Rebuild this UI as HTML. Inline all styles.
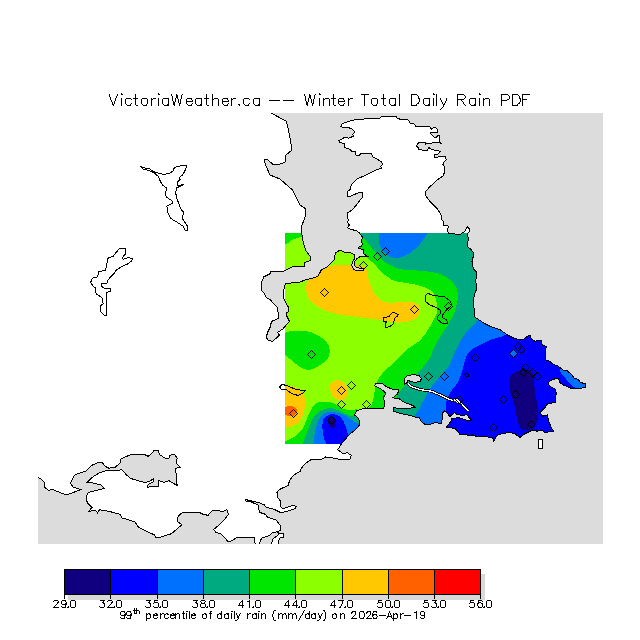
<!DOCTYPE html><html><head><meta charset="utf-8"><style>html,body{margin:0;padding:0;background:#fff;font-family:"Liberation Sans",sans-serif;width:640px;height:640px;overflow:hidden}svg{display:block}</style></head><body>
<svg width="640" height="640" viewBox="0 0 640 640" shape-rendering="crispEdges">
<defs>
<clipPath id="fr"><rect x="38" y="113" width="565" height="431"/></clipPath>
<clipPath id="dr"><rect x="285" y="233" width="325" height="211"/></clipPath>
<clipPath id="ld"><path d="M30 105 L271 105 L271 113 L286 121 L287.5 125 L290 137.5 L292 150 L286 155 L285 162.5 L280 164 L272.5 164 L267.5 159.5 L264.5 160 L265.5 165 L270 175 L280 179 L292.5 190 L295 195 L300 205 L306 209 L305 217.5 L302 225 L301.6 232.5 L303.4 243.75 L306.25 251.25 L310 256 L310 260.6 L305 262.5 L304.4 266.25 L297.5 266.9 L292.5 266.9 L283.75 271.25 L270.6 271.9 L270 273.75 L263.75 276.9 L261.9 281.25 L261.25 290 L264.4 293.75 L266.25 297.5 L270 299.4 L273.75 303.75 L277.5 307.5 L278.1 312.5 L278.1 318.75 L273.1 320.6 L271.25 322.5 L270 327.5 L267.5 332.5 L266.25 337.5 L268.75 340.6 L272.5 341.25 L276.25 338.1 L279.4 335 L277.5 332.5 L283.1 328.75 L286.25 325 L289.4 321.25 L286.9 316.25 L286.25 312.5 L288.75 311.9 L288.75 307.5 L286.25 303.75 L283.75 298.75 L283.75 291.25 L284.4 286.25 L286.25 283.1 L290 283.1 L298.75 282.5 L305 280 L312.5 278.1 L317.5 276.6 L319.4 273.75 L321.25 270 L326.9 267.2 L331.6 262.5 L334.4 259.7 L335.3 253.1 L340 250 L343.75 251.9 L351.25 253.1 L355 255 L354.4 258.75 L352.5 261.9 L351.6 265.6 L353.75 269.4 L355.6 270.6 L363.75 270.6 L363.75 268.75 L356.25 267.5 L354 265 L355 261.25 L356.9 258.75 L360.6 256.25 L367.5 256.25 L363.75 253.75 L363.1 251.25 L363.75 249.4 L358.75 248.75 L358.1 247.5 L361.25 246.25 L362.5 243.75 L361.6 241.9 L361.9 240 L362.2 236.7 L359.8 233.4 L356.6 230.6 L351.9 229.7 L347.2 227.8 L349.4 225 L347.5 222.2 L348.9 219.8 L347.5 218.4 L347.5 212.8 L352.2 210 L356.9 204.4 L359.7 200.6 L362.5 197.3 L362.5 192.7 L359.7 192.2 L351.25 195.9 L347.5 196.9 L347.5 191.25 L350.3 189.4 L351.25 184.7 L356.9 179.1 L367.2 174.4 L375.6 170.2 L381.25 168.3 L380.9 166.25 L382.3 164.4 L381.9 162 L376.25 158.75 L373 156.9 L371.6 154 L368.3 153.6 L360.3 154 L359.4 155.9 L356.1 155.5 L355.2 151.7 L351.9 151.25 L349 148.9 L344.8 147.5 L344.4 143.75 L339.7 142.3 L338.75 140.5 L344.4 137.6 L349 138.1 L353.3 136.25 L352.8 134.4 L354.7 132 L351.9 128.75 L347.2 127.3 L340.2 126.9 L342.5 123.6 L348.1 121.7 L355.6 119.4 L366 118.9 L380 118 L381.9 116.1 L390 116.1 L396.1 116.6 L397.5 118.4 L402.2 119.8 L407.8 119.4 L410.2 123.1 L414.4 124.1 L415.8 126.4 L429.8 126.4 L431.25 129.2 L434 127.3 L436.9 128.3 L437.8 132 L434 132.5 L430.3 133 L433.1 136.25 L435.9 138.1 L436.9 136.25 L439.2 135.3 L439.7 141.9 L441.6 143.3 L436.9 142.3 L429.4 143.3 L425.6 144.2 L425.2 142.3 L419 142.3 L416.25 146.1 L418.1 147.5 L418.6 149.8 L427.5 150.3 L428.9 147.5 L431.25 149.4 L440.6 151.25 L437.8 154 L434 155 L435 157.8 L438.75 156.9 L445.3 156.4 L446.25 159.7 L443.4 162.5 L443 164.4 L444.4 166.25 L445 171.1 L443.1 175.8 L436.6 180.5 L430 186.6 L425.8 191.25 L425.8 195.9 L430.9 202.5 L436.6 208.1 L440.8 213.75 L441.7 219.4 L443.6 222.2 L443.6 225.2 L448.3 226 L447.5 231.4 L449 233.6 L455.3 234 L460.8 234 L464.7 231.4 L467 226.7 L469.4 228.7 L469.4 231.4 L467 233.75 L468.6 238.4 L467.8 241.6 L467.8 247 L471 249.4 L473.3 252.5 L473.4 256.25 L471.9 261 L473.4 268.75 L476.6 271.9 L475.8 281.25 L476.6 289 L474.2 295.3 L473.4 301.6 L474.2 309.4 L475 317.2 L479.7 320.3 L484.4 323.4 L490.6 326.6 L500 329.7 L507.5 335 L515 338.75 L522.5 340 L527.5 336.25 L530 335 L531.25 338.75 L535 341.25 L541.9 340 L541.9 344.7 L546.1 346.6 L545.2 359.7 L549.4 361.1 L554 364.8 L557.8 365.8 L563 370 L566.7 370.5 L569 372.3 L572.3 375.2 L573.75 378 L578.4 379.4 L580.3 382.6 L585.5 383.6 L585.5 387.8 L577.5 388.3 L571.9 388.75 L569 387.3 L563.4 385 L560.2 383.1 L558.75 378.9 L556 378.4 L549.4 381.25 L548 384 L552.2 387.8 L555.5 389.2 L556.4 393.4 L555 400 L555 402.5 L547.5 403.75 L545 407.5 L540 412.5 L542.5 416.25 L547.5 415 L548.75 421.25 L551.25 427.5 L553.75 431.25 L545 432.5 L541.25 430 L537.5 431.25 L532.5 430 L525 433.75 L520 437.5 L515 433.75 L510 432.5 L505 433.1 L497.5 435 L495 438.75 L493.75 441.25 L492.5 438 L487.5 436.9 L477.5 436.9 L472.5 435 L469.7 435.3 L459.9 434.2 L455.5 428.75 L451.1 427.7 L446.7 427.1 L447.8 425.5 L451.1 421 L451.1 418.4 L458.75 417.8 L466.4 420 L471.9 420.6 L466.4 414.5 L464.2 415.6 L456.6 414.5 L454.4 412.4 L450 416.7 L447.8 414 L444.5 410.7 L442.4 413.4 L442.4 417.8 L441.25 423.3 L434.7 422.75 L430.3 424.4 L424.8 424.4 L421 421.1 L419.4 417.8 L415 417.3 L414.7 416.6 L400.6 413.4 L393.6 411.1 L393.6 407.2 L399 408.75 L406.9 408.75 L414.7 407.2 L413.1 405.6 L406.9 403.3 L402.2 401 L399 398.6 L392.8 397.8 L397.5 393.9 L399 390 L392.8 389.2 L386.6 386.9 L381.9 383 L375.6 383.75 L374.8 386 L380.3 388.4 L385.8 393.1 L383.4 397.8 L385 404 L383.4 408.75 L375.6 408.75 L372 408 L366.25 408.75 L362.5 408.75 L356.25 411 L354.7 415 L357.8 418 L360 421.25 L359.4 425.2 L354.7 430.6 L350 433.75 L344.4 440.3 L340.6 445 L337.8 449.7 L342.5 453.4 L347.5 452.9 L351.25 455.3 L350.3 459 L342.5 460 L333 458 L325.6 457 L322 459 L316 459 L310.6 460 L305 463.75 L301.25 468.4 L300.3 471.25 L293.75 475 L290 479.7 L288.1 485.3 L280.6 489 L276.9 491.9 L277.8 497.5 L280.6 501.25 L280.6 506.9 L283.4 508.75 L288.1 506.9 L292.8 505.4 L296.6 506.5 L294.7 508.75 L286.25 511.6 L280.6 512.5 L275 509.7 L265.6 506.9 L264.7 505 L260 503.1 L252.5 501.25 L245 499.4 L245 500.9 L251.6 502.2 L258.1 505 L259 509.7 L260 512.5 L265.6 514.4 L267.5 517.2 L276 520 L279.7 524.7 L280.8 526.9 L280.3 530.6 L277.5 531.6 L271.9 533 L269 535.8 L262.5 537.7 L260.6 540 L259.7 543.5 L259.7 552 L255 552 L255 543.3 L254 541 L254.5 537.7 L244.7 537.2 L236.6 537.8 L231.9 540.6 L228 542 L225 537.8 L221.25 534 L215.6 532.2 L213.75 529.4 L219.4 524.7 L224.1 520 L228.4 514.4 L226.9 509.7 L223.1 511.6 L217.5 510.6 L211.9 511 L208.1 515.3 L203.4 514.4 L198.75 512.1 L195 512.5 L183.75 512.1 L180 514.4 L177.2 518 L178.1 522 L181.9 524.7 L174.4 531.25 L170.6 534 L161.25 536.9 L155.6 537.8 L154.7 535 L146.25 531.25 L138.75 527.5 L135 522 L129.4 520 L121.9 518 L120 514.4 L108.75 511.25 L99.4 509.75 L97.5 513 L95.6 510.3 L89 511.25 L91.9 507.5 L87.2 502.8 L86.25 496.25 L88.1 492.5 L95.6 490.6 L104 488.4 L101.25 485 L91.9 482.75 L87.2 482.2 L91.9 477.5 L99.4 472.8 L106.9 470.4 L116.25 471 L121.9 469.6 L125.6 474 L130.3 478.4 L136.9 480.25 L144.4 482.5 L149 481.6 L153.75 478.75 L153.75 481.6 L148.1 484.4 L147.2 487.2 L158.4 486.25 L158.4 480.6 L164.1 482.5 L168.75 480.6 L173.4 483.4 L177.2 485.3 L176.25 479.7 L176.25 475 L175.3 468.4 L180 467.5 L176.25 462.8 L177.2 458.1 L174.4 454.4 L169.7 455.3 L168.75 459 L165 458.1 L159.4 454.4 L158.4 450.25 L153.75 450.6 L151.9 453.4 L148.1 456.25 L144.4 454.4 L138.75 455 L132.2 454 L127.5 456 L121 458.75 L120 463.4 L114.4 467.75 L108.75 468.1 L105 466.25 L102.2 462.5 L97.5 462.9 L91.9 465.3 L86.25 471 L80.6 472.8 L75 474.7 L72.2 479.4 L70.3 483.1 L73.1 486.9 L80.6 489.7 L76.9 491 L71.25 493.4 L66.6 494.75 L60.9 492.9 L56.25 491 L52.5 489.1 L48.75 490.6 L44.1 486.9 L44.1 482.2 L41.25 479.4 L37.9 477.1 L30 472Z"/></clipPath>
</defs>
<rect x="38" y="113" width="565" height="431" fill="#dcdcdc"/>
<g clip-path="url(#fr)"><path d="M30 105 L271 105 L271 113 L286 121 L287.5 125 L290 137.5 L292 150 L286 155 L285 162.5 L280 164 L272.5 164 L267.5 159.5 L264.5 160 L265.5 165 L270 175 L280 179 L292.5 190 L295 195 L300 205 L306 209 L305 217.5 L302 225 L301.6 232.5 L303.4 243.75 L306.25 251.25 L310 256 L310 260.6 L305 262.5 L304.4 266.25 L297.5 266.9 L292.5 266.9 L283.75 271.25 L270.6 271.9 L270 273.75 L263.75 276.9 L261.9 281.25 L261.25 290 L264.4 293.75 L266.25 297.5 L270 299.4 L273.75 303.75 L277.5 307.5 L278.1 312.5 L278.1 318.75 L273.1 320.6 L271.25 322.5 L270 327.5 L267.5 332.5 L266.25 337.5 L268.75 340.6 L272.5 341.25 L276.25 338.1 L279.4 335 L277.5 332.5 L283.1 328.75 L286.25 325 L289.4 321.25 L286.9 316.25 L286.25 312.5 L288.75 311.9 L288.75 307.5 L286.25 303.75 L283.75 298.75 L283.75 291.25 L284.4 286.25 L286.25 283.1 L290 283.1 L298.75 282.5 L305 280 L312.5 278.1 L317.5 276.6 L319.4 273.75 L321.25 270 L326.9 267.2 L331.6 262.5 L334.4 259.7 L335.3 253.1 L340 250 L343.75 251.9 L351.25 253.1 L355 255 L354.4 258.75 L352.5 261.9 L351.6 265.6 L353.75 269.4 L355.6 270.6 L363.75 270.6 L363.75 268.75 L356.25 267.5 L354 265 L355 261.25 L356.9 258.75 L360.6 256.25 L367.5 256.25 L363.75 253.75 L363.1 251.25 L363.75 249.4 L358.75 248.75 L358.1 247.5 L361.25 246.25 L362.5 243.75 L361.6 241.9 L361.9 240 L362.2 236.7 L359.8 233.4 L356.6 230.6 L351.9 229.7 L347.2 227.8 L349.4 225 L347.5 222.2 L348.9 219.8 L347.5 218.4 L347.5 212.8 L352.2 210 L356.9 204.4 L359.7 200.6 L362.5 197.3 L362.5 192.7 L359.7 192.2 L351.25 195.9 L347.5 196.9 L347.5 191.25 L350.3 189.4 L351.25 184.7 L356.9 179.1 L367.2 174.4 L375.6 170.2 L381.25 168.3 L380.9 166.25 L382.3 164.4 L381.9 162 L376.25 158.75 L373 156.9 L371.6 154 L368.3 153.6 L360.3 154 L359.4 155.9 L356.1 155.5 L355.2 151.7 L351.9 151.25 L349 148.9 L344.8 147.5 L344.4 143.75 L339.7 142.3 L338.75 140.5 L344.4 137.6 L349 138.1 L353.3 136.25 L352.8 134.4 L354.7 132 L351.9 128.75 L347.2 127.3 L340.2 126.9 L342.5 123.6 L348.1 121.7 L355.6 119.4 L366 118.9 L380 118 L381.9 116.1 L390 116.1 L396.1 116.6 L397.5 118.4 L402.2 119.8 L407.8 119.4 L410.2 123.1 L414.4 124.1 L415.8 126.4 L429.8 126.4 L431.25 129.2 L434 127.3 L436.9 128.3 L437.8 132 L434 132.5 L430.3 133 L433.1 136.25 L435.9 138.1 L436.9 136.25 L439.2 135.3 L439.7 141.9 L441.6 143.3 L436.9 142.3 L429.4 143.3 L425.6 144.2 L425.2 142.3 L419 142.3 L416.25 146.1 L418.1 147.5 L418.6 149.8 L427.5 150.3 L428.9 147.5 L431.25 149.4 L440.6 151.25 L437.8 154 L434 155 L435 157.8 L438.75 156.9 L445.3 156.4 L446.25 159.7 L443.4 162.5 L443 164.4 L444.4 166.25 L445 171.1 L443.1 175.8 L436.6 180.5 L430 186.6 L425.8 191.25 L425.8 195.9 L430.9 202.5 L436.6 208.1 L440.8 213.75 L441.7 219.4 L443.6 222.2 L443.6 225.2 L448.3 226 L447.5 231.4 L449 233.6 L455.3 234 L460.8 234 L464.7 231.4 L467 226.7 L469.4 228.7 L469.4 231.4 L467 233.75 L468.6 238.4 L467.8 241.6 L467.8 247 L471 249.4 L473.3 252.5 L473.4 256.25 L471.9 261 L473.4 268.75 L476.6 271.9 L475.8 281.25 L476.6 289 L474.2 295.3 L473.4 301.6 L474.2 309.4 L475 317.2 L479.7 320.3 L484.4 323.4 L490.6 326.6 L500 329.7 L507.5 335 L515 338.75 L522.5 340 L527.5 336.25 L530 335 L531.25 338.75 L535 341.25 L541.9 340 L541.9 344.7 L546.1 346.6 L545.2 359.7 L549.4 361.1 L554 364.8 L557.8 365.8 L563 370 L566.7 370.5 L569 372.3 L572.3 375.2 L573.75 378 L578.4 379.4 L580.3 382.6 L585.5 383.6 L585.5 387.8 L577.5 388.3 L571.9 388.75 L569 387.3 L563.4 385 L560.2 383.1 L558.75 378.9 L556 378.4 L549.4 381.25 L548 384 L552.2 387.8 L555.5 389.2 L556.4 393.4 L555 400 L555 402.5 L547.5 403.75 L545 407.5 L540 412.5 L542.5 416.25 L547.5 415 L548.75 421.25 L551.25 427.5 L553.75 431.25 L545 432.5 L541.25 430 L537.5 431.25 L532.5 430 L525 433.75 L520 437.5 L515 433.75 L510 432.5 L505 433.1 L497.5 435 L495 438.75 L493.75 441.25 L492.5 438 L487.5 436.9 L477.5 436.9 L472.5 435 L469.7 435.3 L459.9 434.2 L455.5 428.75 L451.1 427.7 L446.7 427.1 L447.8 425.5 L451.1 421 L451.1 418.4 L458.75 417.8 L466.4 420 L471.9 420.6 L466.4 414.5 L464.2 415.6 L456.6 414.5 L454.4 412.4 L450 416.7 L447.8 414 L444.5 410.7 L442.4 413.4 L442.4 417.8 L441.25 423.3 L434.7 422.75 L430.3 424.4 L424.8 424.4 L421 421.1 L419.4 417.8 L415 417.3 L414.7 416.6 L400.6 413.4 L393.6 411.1 L393.6 407.2 L399 408.75 L406.9 408.75 L414.7 407.2 L413.1 405.6 L406.9 403.3 L402.2 401 L399 398.6 L392.8 397.8 L397.5 393.9 L399 390 L392.8 389.2 L386.6 386.9 L381.9 383 L375.6 383.75 L374.8 386 L380.3 388.4 L385.8 393.1 L383.4 397.8 L385 404 L383.4 408.75 L375.6 408.75 L372 408 L366.25 408.75 L362.5 408.75 L356.25 411 L354.7 415 L357.8 418 L360 421.25 L359.4 425.2 L354.7 430.6 L350 433.75 L344.4 440.3 L340.6 445 L337.8 449.7 L342.5 453.4 L347.5 452.9 L351.25 455.3 L350.3 459 L342.5 460 L333 458 L325.6 457 L322 459 L316 459 L310.6 460 L305 463.75 L301.25 468.4 L300.3 471.25 L293.75 475 L290 479.7 L288.1 485.3 L280.6 489 L276.9 491.9 L277.8 497.5 L280.6 501.25 L280.6 506.9 L283.4 508.75 L288.1 506.9 L292.8 505.4 L296.6 506.5 L294.7 508.75 L286.25 511.6 L280.6 512.5 L275 509.7 L265.6 506.9 L264.7 505 L260 503.1 L252.5 501.25 L245 499.4 L245 500.9 L251.6 502.2 L258.1 505 L259 509.7 L260 512.5 L265.6 514.4 L267.5 517.2 L276 520 L279.7 524.7 L280.8 526.9 L280.3 530.6 L277.5 531.6 L271.9 533 L269 535.8 L262.5 537.7 L260.6 540 L259.7 543.5 L259.7 552 L255 552 L255 543.3 L254 541 L254.5 537.7 L244.7 537.2 L236.6 537.8 L231.9 540.6 L228 542 L225 537.8 L221.25 534 L215.6 532.2 L213.75 529.4 L219.4 524.7 L224.1 520 L228.4 514.4 L226.9 509.7 L223.1 511.6 L217.5 510.6 L211.9 511 L208.1 515.3 L203.4 514.4 L198.75 512.1 L195 512.5 L183.75 512.1 L180 514.4 L177.2 518 L178.1 522 L181.9 524.7 L174.4 531.25 L170.6 534 L161.25 536.9 L155.6 537.8 L154.7 535 L146.25 531.25 L138.75 527.5 L135 522 L129.4 520 L121.9 518 L120 514.4 L108.75 511.25 L99.4 509.75 L97.5 513 L95.6 510.3 L89 511.25 L91.9 507.5 L87.2 502.8 L86.25 496.25 L88.1 492.5 L95.6 490.6 L104 488.4 L101.25 485 L91.9 482.75 L87.2 482.2 L91.9 477.5 L99.4 472.8 L106.9 470.4 L116.25 471 L121.9 469.6 L125.6 474 L130.3 478.4 L136.9 480.25 L144.4 482.5 L149 481.6 L153.75 478.75 L153.75 481.6 L148.1 484.4 L147.2 487.2 L158.4 486.25 L158.4 480.6 L164.1 482.5 L168.75 480.6 L173.4 483.4 L177.2 485.3 L176.25 479.7 L176.25 475 L175.3 468.4 L180 467.5 L176.25 462.8 L177.2 458.1 L174.4 454.4 L169.7 455.3 L168.75 459 L165 458.1 L159.4 454.4 L158.4 450.25 L153.75 450.6 L151.9 453.4 L148.1 456.25 L144.4 454.4 L138.75 455 L132.2 454 L127.5 456 L121 458.75 L120 463.4 L114.4 467.75 L108.75 468.1 L105 466.25 L102.2 462.5 L97.5 462.9 L91.9 465.3 L86.25 471 L80.6 472.8 L75 474.7 L72.2 479.4 L70.3 483.1 L73.1 486.9 L80.6 489.7 L76.9 491 L71.25 493.4 L66.6 494.75 L60.9 492.9 L56.25 491 L52.5 489.1 L48.75 490.6 L44.1 486.9 L44.1 482.2 L41.25 479.4 L37.9 477.1 L30 472Z" fill="#fff"/></g>
<g clip-path="url(#ld)"><g clip-path="url(#dr)">
<rect x="285" y="233" width="325" height="211" fill="#8cff00"/>
<path d="M285 225 C288.83 221.92 304.17 223.5 308 225 C311.83 226.5 309.33 232 308 234 C306.67 236 302.67 236 300 237 C297.33 238 294.5 238.92 292 240 C289.5 241.08 286.17 246 285 243.5 C283.83 241 281.17 228.08 285 225Z" fill="#00e600"/>
<path d="M280 336 C280.83 333 283.12 333.8 285 333 C286.88 332.2 287.6 331.5 291.25 331.2 C294.9 330.9 302.73 330.62 306.9 331.2 C311.07 331.78 313.4 333.33 316.25 334.7 C319.1 336.07 321.92 337.58 324 339.4 C326.08 341.22 327.83 343.27 328.75 345.6 C329.67 347.93 329.76 351.05 329.5 353.4 C329.24 355.75 328.62 357.87 327.2 359.7 C325.78 361.53 323.08 362.97 321 364.4 C318.92 365.83 316.92 367.4 314.7 368.3 C312.48 369.2 310.05 369.93 307.7 369.8 C305.35 369.67 303.08 368.93 300.6 367.5 C298.12 366.07 295.4 363.33 292.8 361.25 C290.2 359.17 287.13 356.71 285 355 C282.87 353.29 280.83 354.17 280 351 C279.17 347.83 279.17 339 280 336Z" fill="#00e600"/>
<path d="M354 225 C354.33 228.33 354 239.83 356 245 C358 250.17 363.33 253.17 366 256 C368.67 258.83 370.17 260.17 372 262 C373.83 263.83 375.33 265.25 377 267 C378.67 268.75 380.17 270.83 382 272.5 C383.83 274.17 385.83 275.58 388 277 C390.17 278.42 390.5 279.75 395 281 C399.5 282.25 410 283.42 415 284.5 C420 285.58 422.03 286.22 425 287.5 C427.97 288.78 430.97 290.12 432.8 292.2 C434.63 294.28 435.22 297.13 436 300 C436.78 302.87 437.77 306.27 437.5 309.4 C437.23 312.52 435.98 315.37 434.4 318.75 C432.82 322.13 430.4 326.07 428 329.7 C425.6 333.32 423.5 337.22 420 340.5 C416.5 343.78 411.27 345.83 407 349.4 C402.73 352.97 398.85 357.47 394.4 361.9 C389.95 366.33 383.43 371.83 380.3 376 C377.17 380.17 376.9 382.48 375.6 386.9 C374.3 391.32 373.53 399.12 372.5 402.5 C371.47 405.88 371.15 405.95 369.4 407.2 C367.65 408.45 364.19 409.63 362 410 C359.81 410.37 358.25 409.4 356.25 409.4 C354.25 409.4 352.29 410.11 350 410 C347.71 409.89 345 409.79 342.5 408.75 C340 407.71 337.5 404.89 335 403.75 C332.5 402.61 330.42 402.11 327.5 401.9 C324.58 401.69 320 401.57 317.5 402.5 C315 403.43 314.17 405 312.5 407.5 C310.83 410 309.17 413.96 307.5 417.5 C305.83 421.04 304.58 425.62 302.5 428.75 C300.42 431.88 297.92 434.17 295 436.25 C292.08 438.33 287.83 439.96 285 441.25 C282.17 442.54 279.17 443.54 278 444 L278 450 L620 450 L620 225Z" fill="#00e600"/>
<path d="M358 225 C358.67 226.83 360.5 233.17 362 236 C363.5 238.83 365.5 240.17 367 242 C368.5 243.83 369.5 245.25 371 247 C372.5 248.75 374.29 250.54 376 252.5 C377.71 254.46 379.33 256.88 381.25 258.75 C383.17 260.62 385.21 262.29 387.5 263.75 C389.79 265.21 392.42 266.54 395 267.5 C397.58 268.46 398.33 268.92 403 269.5 C407.67 270.08 417 270.33 423 271 C429 271.67 434.5 272.05 439 273.5 C443.5 274.95 447.12 277.37 450 279.7 C452.88 282.03 454.95 284.63 456.25 287.5 C457.55 290.37 457.8 293.77 457.8 296.9 C457.8 300.02 457.03 303.13 456.25 306.25 C455.47 309.37 454.66 312.21 453.1 315.6 C451.54 318.99 448.98 323.2 446.9 326.6 C444.82 330 442.95 332.1 440.6 336 C438.25 339.9 434.52 346.47 432.8 350 C431.08 353.53 432.53 353.66 430.3 357.2 C428.07 360.74 423.82 366.3 419.4 371.25 C414.97 376.2 407.15 383.27 403.75 386.9 C400.35 390.52 400.82 389.88 399 393 C397.18 396.12 395.3 401.43 392.8 405.6 C390.3 409.77 387.8 415.6 384 418 C380.2 420.4 374.42 420.92 370 420 C365.58 419.08 360.42 413.12 357.5 412.5 C354.58 411.88 354.58 416.04 352.5 416.25 C350.42 416.46 347.5 414.79 345 413.75 C342.5 412.71 340 410.94 337.5 410 C335 409.06 332.5 408.1 330 408.1 C327.5 408.1 325 408.85 322.5 410 C320 411.15 317.08 412.5 315 415 C312.92 417.5 311.67 421.25 310 425 C308.33 428.75 306.25 434.17 305 437.5 C303.75 440.83 302.92 443.75 302.5 445 L302.5 450 L620 450 L620 225Z" fill="#00aa80"/>
<path d="M378.5 225 C370.29 226.33 378.5 229.5 378.75 233 C379 236.5 378.79 242.5 380 246 C381.21 249.5 383.83 252.08 386 254 C388.17 255.92 390.67 256.92 393 257.5 C395.33 258.08 397.17 258.25 400 257.5 C402.83 256.75 406.67 255.25 410 253 C413.33 250.75 417.08 247.33 420 244 C422.92 240.67 426.17 236.17 427.5 233 C428.83 229.83 436.17 226.33 428 225 C419.83 223.67 386.71 223.67 378.5 225Z" fill="#0070ff"/>
<path d="M480 300 C479.58 303.33 479.5 315 477.5 320 C475.5 325 470.75 326.67 468 330 C465.25 333.33 463.17 336.33 461 340 C458.83 343.67 457 347.67 455 352 C453 356.33 450.88 362.67 449 366 C447.12 369.33 445.88 369.46 443.75 372 C441.62 374.54 438.54 378.46 436.25 381.25 C433.96 384.04 432.29 385.21 430 388.75 C427.71 392.29 424.79 398.39 422.5 402.5 C420.21 406.61 420 409.15 416.25 413.4 C412.5 417.65 407.71 425.57 400 428 C392.29 430.43 376.88 428.71 370 428 C363.12 427.29 361.46 424.88 358.75 423.75 C356.04 422.62 355.83 422.5 353.75 421.25 C351.67 420 348.75 417.61 346.25 416.25 C343.75 414.89 341.25 413.83 338.75 413.1 C336.25 412.38 333.75 411.79 331.25 411.9 C328.75 412.01 325.83 412.4 323.75 413.75 C321.67 415.1 320.21 417.08 318.75 420 C317.29 422.92 315.83 427.08 315 431.25 C314.17 435.42 313.96 442.71 313.75 445 L313.75 450 L620 450 L620 300Z" fill="#0070ff"/>
<path d="M515 325 C513.33 326.67 509.17 332.5 505 335 C500.83 337.5 494.5 338.17 490 340 C485.5 341.83 481.33 344.17 478 346 C474.67 347.83 472 349.17 470 351 C468 352.83 467.17 354.17 466 357 C464.83 359.83 464.25 364 463 368 C461.75 372 460.67 376.83 458.5 381 C456.33 385.17 452 389.67 450 393 C448 396.33 447.17 398 446.5 401 C445.83 404 446.08 403.67 446 411 C445.92 418.33 446 439.33 446 445 L446 450 L620 450 L620 325Z" fill="#0000ff"/>
<path d="M327.5 445 C323.75 442.29 323.12 433.12 322.5 428.75 C321.88 424.38 322.71 421.04 323.75 418.75 C324.79 416.46 326.88 415.73 328.75 415 C330.62 414.27 332.92 413.98 335 414.4 C337.08 414.82 339.58 415.73 341.25 417.5 C342.92 419.27 343.96 422.5 345 425 C346.04 427.5 347.08 430.42 347.5 432.5 C347.92 434.58 347.92 435.42 347.5 437.5 C347.08 439.58 348.33 443.75 345 445 C341.67 446.25 331.25 447.71 327.5 445Z" fill="#0000ff"/>
<path d="M561 369 C562.5 368.83 567.17 370.58 570 372 C572.83 373.42 575.33 375.83 578 377.5 C580.67 379.17 584 379.92 586 382 C588 384.08 591.33 388.83 590 390 C588.67 391.17 581.17 389.83 578 389 C574.83 388.17 573 386.67 571 385 C569 383.33 567.67 381 566 379 C564.33 377 561.83 374.67 561 373 C560.17 371.33 559.5 369.17 561 369Z" fill="#0070ff"/>
<path d="M512.5 373.75 C514.58 372.5 519.38 370.42 522.5 370 C525.62 369.58 529.38 369.58 531.25 371.25 C533.12 372.92 533.12 376.46 533.75 380 C534.38 383.54 534.38 388.33 535 392.5 C535.62 396.67 537.08 400.42 537.5 405 C537.92 409.58 538.12 416.25 537.5 420 C536.88 423.75 535.83 425.83 533.75 427.5 C531.67 429.17 527.29 430 525 430 C522.71 430 521.46 430 520 427.5 C518.54 425 517.29 419.17 516.25 415 C515.21 410.83 515 407.08 513.75 402.5 C512.5 397.92 509.38 391.67 508.75 387.5 C508.12 383.33 509.38 379.79 510 377.5 C510.62 375.21 510.42 375 512.5 373.75Z" fill="#100080"/>
<path d="M327.5 418.75 C327.92 417.29 330 416.25 331.25 416.25 C332.5 416.25 334.17 417.5 335 418.75 C335.83 420 336.67 422.19 336.25 423.75 C335.83 425.31 333.75 427.89 332.5 428.1 C331.25 428.31 329.58 426.56 328.75 425 C327.92 423.44 327.08 420.21 327.5 418.75Z" fill="#100080"/>
<path d="M306.25 286.25 C306.56 283.71 306.46 281.67 308.75 278.75 C311.04 275.83 315.21 271.04 320 268.75 C324.79 266.46 331.67 265.62 337.5 265 C343.33 264.38 350.42 264.58 355 265 C359.58 265.42 362.92 265.83 365 267.5 C367.08 269.17 366.46 271.67 367.5 275 C368.54 278.33 369.58 283.75 371.25 287.5 C372.92 291.25 374.79 295 377.5 297.5 C380.21 300 383.33 301.75 387.5 302.5 C391.67 303.25 398.08 302.03 402.5 302 C406.92 301.97 411.17 301.59 414 302.3 C416.83 303.01 418.45 304.8 419.5 306.25 C420.55 307.7 420.68 309.18 420.3 311 C419.92 312.82 419.02 315.53 417.2 317.2 C415.38 318.87 412.68 320.12 409.4 321 C406.12 321.88 402.4 322.67 397.5 322.5 C392.6 322.33 385.83 320.83 380 320 C374.17 319.17 368.33 318.25 362.5 317.5 C356.67 316.75 349.58 316.15 345 315.5 C340.42 314.85 338.23 314.43 335 313.6 C331.77 312.77 328.47 311.67 325.6 310.5 C322.73 309.33 320.27 308.17 317.8 306.6 C315.33 305.03 312.62 303.2 310.8 301.1 C308.98 299 307.66 296.48 306.9 294 C306.14 291.52 305.94 288.79 306.25 286.25Z" fill="#ffc800"/>
<path d="M329.7 385.3 C330.23 382.64 333.66 380.82 336 380.3 C338.34 379.78 341.68 380.58 343.75 382.2 C345.82 383.82 347.88 387.66 348.4 390 C348.92 392.34 348.2 394.55 346.9 396.25 C345.6 397.95 342.95 400.2 340.6 400.2 C338.25 400.2 334.62 398.73 332.8 396.25 C330.98 393.77 329.17 387.96 329.7 385.3Z" fill="#ffc800"/>
<path d="M280 385.3 C280.83 378.35 281.93 384.78 285 385.3 C288.07 385.82 295.25 386.83 298.4 388.4 C301.55 389.97 302.8 392.43 303.9 394.7 C305 396.97 304.92 399.45 305 402 C305.08 404.55 305.23 406.79 304.4 410 C303.57 413.21 301.98 418.54 300 421.25 C298.02 423.96 295 425.29 292.5 426.25 C290 427.21 287.08 426.88 285 427 C282.92 427.12 280.83 433.95 280 427 C279.17 420.05 279.17 392.25 280 385.3Z" fill="#ffc800"/>
<path d="M280 407.5 C280.83 406.25 283.33 407.82 285 407.5 C286.67 407.18 288.33 405.6 290 405.6 C291.67 405.6 293.75 406.56 295 407.5 C296.25 408.44 297.5 410 297.5 411.25 C297.5 412.5 296.25 414.17 295 415 C293.75 415.83 291.67 416.25 290 416.25 C288.33 416.25 286.67 415.21 285 415 C283.33 414.79 280.83 416.25 280 415 C279.17 413.75 279.17 408.75 280 407.5Z" fill="#ff6000"/>
</g></g>
<g clip-path="url(#fr)" fill="none" stroke="#000" stroke-width="1">
<path d="M30 105 L271 105 L271 113 L286 121 L287.5 125 L290 137.5 L292 150 L286 155 L285 162.5 L280 164 L272.5 164 L267.5 159.5 L264.5 160 L265.5 165 L270 175 L280 179 L292.5 190 L295 195 L300 205 L306 209 L305 217.5 L302 225 L301.6 232.5 L303.4 243.75 L306.25 251.25 L310 256 L310 260.6 L305 262.5 L304.4 266.25 L297.5 266.9 L292.5 266.9 L283.75 271.25 L270.6 271.9 L270 273.75 L263.75 276.9 L261.9 281.25 L261.25 290 L264.4 293.75 L266.25 297.5 L270 299.4 L273.75 303.75 L277.5 307.5 L278.1 312.5 L278.1 318.75 L273.1 320.6 L271.25 322.5 L270 327.5 L267.5 332.5 L266.25 337.5 L268.75 340.6 L272.5 341.25 L276.25 338.1 L279.4 335 L277.5 332.5 L283.1 328.75 L286.25 325 L289.4 321.25 L286.9 316.25 L286.25 312.5 L288.75 311.9 L288.75 307.5 L286.25 303.75 L283.75 298.75 L283.75 291.25 L284.4 286.25 L286.25 283.1 L290 283.1 L298.75 282.5 L305 280 L312.5 278.1 L317.5 276.6 L319.4 273.75 L321.25 270 L326.9 267.2 L331.6 262.5 L334.4 259.7 L335.3 253.1 L340 250 L343.75 251.9 L351.25 253.1 L355 255 L354.4 258.75 L352.5 261.9 L351.6 265.6 L353.75 269.4 L355.6 270.6 L363.75 270.6 L363.75 268.75 L356.25 267.5 L354 265 L355 261.25 L356.9 258.75 L360.6 256.25 L367.5 256.25 L363.75 253.75 L363.1 251.25 L363.75 249.4 L358.75 248.75 L358.1 247.5 L361.25 246.25 L362.5 243.75 L361.6 241.9 L361.9 240 L362.2 236.7 L359.8 233.4 L356.6 230.6 L351.9 229.7 L347.2 227.8 L349.4 225 L347.5 222.2 L348.9 219.8 L347.5 218.4 L347.5 212.8 L352.2 210 L356.9 204.4 L359.7 200.6 L362.5 197.3 L362.5 192.7 L359.7 192.2 L351.25 195.9 L347.5 196.9 L347.5 191.25 L350.3 189.4 L351.25 184.7 L356.9 179.1 L367.2 174.4 L375.6 170.2 L381.25 168.3 L380.9 166.25 L382.3 164.4 L381.9 162 L376.25 158.75 L373 156.9 L371.6 154 L368.3 153.6 L360.3 154 L359.4 155.9 L356.1 155.5 L355.2 151.7 L351.9 151.25 L349 148.9 L344.8 147.5 L344.4 143.75 L339.7 142.3 L338.75 140.5 L344.4 137.6 L349 138.1 L353.3 136.25 L352.8 134.4 L354.7 132 L351.9 128.75 L347.2 127.3 L340.2 126.9 L342.5 123.6 L348.1 121.7 L355.6 119.4 L366 118.9 L380 118 L381.9 116.1 L390 116.1 L396.1 116.6 L397.5 118.4 L402.2 119.8 L407.8 119.4 L410.2 123.1 L414.4 124.1 L415.8 126.4 L429.8 126.4 L431.25 129.2 L434 127.3 L436.9 128.3 L437.8 132 L434 132.5 L430.3 133 L433.1 136.25 L435.9 138.1 L436.9 136.25 L439.2 135.3 L439.7 141.9 L441.6 143.3 L436.9 142.3 L429.4 143.3 L425.6 144.2 L425.2 142.3 L419 142.3 L416.25 146.1 L418.1 147.5 L418.6 149.8 L427.5 150.3 L428.9 147.5 L431.25 149.4 L440.6 151.25 L437.8 154 L434 155 L435 157.8 L438.75 156.9 L445.3 156.4 L446.25 159.7 L443.4 162.5 L443 164.4 L444.4 166.25 L445 171.1 L443.1 175.8 L436.6 180.5 L430 186.6 L425.8 191.25 L425.8 195.9 L430.9 202.5 L436.6 208.1 L440.8 213.75 L441.7 219.4 L443.6 222.2 L443.6 225.2 L448.3 226 L447.5 231.4 L449 233.6 L455.3 234 L460.8 234 L464.7 231.4 L467 226.7 L469.4 228.7 L469.4 231.4 L467 233.75 L468.6 238.4 L467.8 241.6 L467.8 247 L471 249.4 L473.3 252.5 L473.4 256.25 L471.9 261 L473.4 268.75 L476.6 271.9 L475.8 281.25 L476.6 289 L474.2 295.3 L473.4 301.6 L474.2 309.4 L475 317.2 L479.7 320.3 L484.4 323.4 L490.6 326.6 L500 329.7 L507.5 335 L515 338.75 L522.5 340 L527.5 336.25 L530 335 L531.25 338.75 L535 341.25 L541.9 340 L541.9 344.7 L546.1 346.6 L545.2 359.7 L549.4 361.1 L554 364.8 L557.8 365.8 L563 370 L566.7 370.5 L569 372.3 L572.3 375.2 L573.75 378 L578.4 379.4 L580.3 382.6 L585.5 383.6 L585.5 387.8 L577.5 388.3 L571.9 388.75 L569 387.3 L563.4 385 L560.2 383.1 L558.75 378.9 L556 378.4 L549.4 381.25 L548 384 L552.2 387.8 L555.5 389.2 L556.4 393.4 L555 400 L555 402.5 L547.5 403.75 L545 407.5 L540 412.5 L542.5 416.25 L547.5 415 L548.75 421.25 L551.25 427.5 L553.75 431.25 L545 432.5 L541.25 430 L537.5 431.25 L532.5 430 L525 433.75 L520 437.5 L515 433.75 L510 432.5 L505 433.1 L497.5 435 L495 438.75 L493.75 441.25 L492.5 438 L487.5 436.9 L477.5 436.9 L472.5 435 L469.7 435.3 L459.9 434.2 L455.5 428.75 L451.1 427.7 L446.7 427.1 L447.8 425.5 L451.1 421 L451.1 418.4 L458.75 417.8 L466.4 420 L471.9 420.6 L466.4 414.5 L464.2 415.6 L456.6 414.5 L454.4 412.4 L450 416.7 L447.8 414 L444.5 410.7 L442.4 413.4 L442.4 417.8 L441.25 423.3 L434.7 422.75 L430.3 424.4 L424.8 424.4 L421 421.1 L419.4 417.8 L415 417.3 L414.7 416.6 L400.6 413.4 L393.6 411.1 L393.6 407.2 L399 408.75 L406.9 408.75 L414.7 407.2 L413.1 405.6 L406.9 403.3 L402.2 401 L399 398.6 L392.8 397.8 L397.5 393.9 L399 390 L392.8 389.2 L386.6 386.9 L381.9 383 L375.6 383.75 L374.8 386 L380.3 388.4 L385.8 393.1 L383.4 397.8 L385 404 L383.4 408.75 L375.6 408.75 L372 408 L366.25 408.75 L362.5 408.75 L356.25 411 L354.7 415 L357.8 418 L360 421.25 L359.4 425.2 L354.7 430.6 L350 433.75 L344.4 440.3 L340.6 445 L337.8 449.7 L342.5 453.4 L347.5 452.9 L351.25 455.3 L350.3 459 L342.5 460 L333 458 L325.6 457 L322 459 L316 459 L310.6 460 L305 463.75 L301.25 468.4 L300.3 471.25 L293.75 475 L290 479.7 L288.1 485.3 L280.6 489 L276.9 491.9 L277.8 497.5 L280.6 501.25 L280.6 506.9 L283.4 508.75 L288.1 506.9 L292.8 505.4 L296.6 506.5 L294.7 508.75 L286.25 511.6 L280.6 512.5 L275 509.7 L265.6 506.9 L264.7 505 L260 503.1 L252.5 501.25 L245 499.4 L245 500.9 L251.6 502.2 L258.1 505 L259 509.7 L260 512.5 L265.6 514.4 L267.5 517.2 L276 520 L279.7 524.7 L280.8 526.9 L280.3 530.6 L277.5 531.6 L271.9 533 L269 535.8 L262.5 537.7 L260.6 540 L259.7 543.5 L259.7 552 L255 552 L255 543.3 L254 541 L254.5 537.7 L244.7 537.2 L236.6 537.8 L231.9 540.6 L228 542 L225 537.8 L221.25 534 L215.6 532.2 L213.75 529.4 L219.4 524.7 L224.1 520 L228.4 514.4 L226.9 509.7 L223.1 511.6 L217.5 510.6 L211.9 511 L208.1 515.3 L203.4 514.4 L198.75 512.1 L195 512.5 L183.75 512.1 L180 514.4 L177.2 518 L178.1 522 L181.9 524.7 L174.4 531.25 L170.6 534 L161.25 536.9 L155.6 537.8 L154.7 535 L146.25 531.25 L138.75 527.5 L135 522 L129.4 520 L121.9 518 L120 514.4 L108.75 511.25 L99.4 509.75 L97.5 513 L95.6 510.3 L89 511.25 L91.9 507.5 L87.2 502.8 L86.25 496.25 L88.1 492.5 L95.6 490.6 L104 488.4 L101.25 485 L91.9 482.75 L87.2 482.2 L91.9 477.5 L99.4 472.8 L106.9 470.4 L116.25 471 L121.9 469.6 L125.6 474 L130.3 478.4 L136.9 480.25 L144.4 482.5 L149 481.6 L153.75 478.75 L153.75 481.6 L148.1 484.4 L147.2 487.2 L158.4 486.25 L158.4 480.6 L164.1 482.5 L168.75 480.6 L173.4 483.4 L177.2 485.3 L176.25 479.7 L176.25 475 L175.3 468.4 L180 467.5 L176.25 462.8 L177.2 458.1 L174.4 454.4 L169.7 455.3 L168.75 459 L165 458.1 L159.4 454.4 L158.4 450.25 L153.75 450.6 L151.9 453.4 L148.1 456.25 L144.4 454.4 L138.75 455 L132.2 454 L127.5 456 L121 458.75 L120 463.4 L114.4 467.75 L108.75 468.1 L105 466.25 L102.2 462.5 L97.5 462.9 L91.9 465.3 L86.25 471 L80.6 472.8 L75 474.7 L72.2 479.4 L70.3 483.1 L73.1 486.9 L80.6 489.7 L76.9 491 L71.25 493.4 L66.6 494.75 L60.9 492.9 L56.25 491 L52.5 489.1 L48.75 490.6 L44.1 486.9 L44.1 482.2 L41.25 479.4 L37.9 477.1 L30 472Z"/>
</g>
<g fill="none" stroke="#000" stroke-width="1">
<path d="M140.6 166.5 L145 168 L150 169 L152.5 171 L160 173.75 L165 174.4 L170 173 L173 171 L174.4 167.5 L180 166 L186.9 165.25 L186.25 167.5 L184.4 171.9 L182.5 175 L179.4 177.5 L180 179.4 L177.5 181.9 L178 185.6 L183.75 184.4 L176.9 187.75 L175.6 192.5 L176.9 198.75 L179.4 205 L181.25 210 L183.75 211.9 L183.1 214.4 L181.9 218 L185 222.5 L188.1 226.9 L187.5 230 L185 230 L183.1 226.25 L177.5 222.5 L171.25 218.75 L168.1 213.75 L167.5 207.5 L166.25 206.25 L173.1 203.1 L171.9 200.6 L166.9 197.5 L165 193.75 L166.9 188.1 L162.5 185 L160 180.6 L158.1 176.25 L153.75 172.5 L148.75 170.6 L142.5 168.75Z"/>
<path d="M119.4 248.5 L125.6 248.5 L125.6 253.75 L121.9 258.1 L123.1 259.4 L128.75 257.5 L132.5 258.75 L131.9 260.6 L128.1 263.75 L121.25 266.9 L116.25 270 L113.75 273.75 L110 277.5 L107.5 280.6 L106.9 283.1 L101.9 283.75 L101.25 286.25 L104.4 288.1 L110 288.1 L110 291.25 L106.9 292.5 L106.25 297.5 L106.25 305 L106.9 310 L106.25 315.6 L103.75 315 L100.6 311.25 L100 306.25 L103.1 303.75 L102.5 298.75 L100 296.25 L96.25 293.75 L95 287.5 L93.75 286.9 L90.6 282.5 L92.5 278.1 L97.5 276.9 L98.75 271.9 L105.6 270 L106.9 263.1 L108.1 258.1 L113.1 256.25Z"/>
<path d="M279.7 386.9 L282 384.5 L286 385.3 L295.3 389.2 L304.7 390.8 L303.1 393 L298.4 395.5 L292.2 393.9 L286.7 390 L281.25 389.2Z"/>
<path d="M392.8 312.2 L395 313.1 L398.4 314.7 L397.5 316.25 L395.3 317.5 L394.4 318.75 L393.75 323.1 L391.25 325.6 L388.75 326.9 L385.6 327.2 L385.3 324 L386.25 321.9 L383.75 321.25 L383.4 318.1 L385 317.2 L388.75 316.9 L390.6 314.4Z"/>
<path d="M425 296 L428 293.4 L433 295.3 L445 297 L450 301 L452 305 L447 309.5 L444 313 L442 316 L443 318 L446 319.6 L448 322 L447 323.5 L442 323 L438 320 L437 317 L440 314 L440 310 L436 307.5 L430 305 L426 302Z"/>
<path d="M539 439 L542.5 439 L542 444 L542.5 448.5 L539 448.5 L538.5 444Z" fill="#fff"/>
<g clip-path="url(#fr)"><path d="M277.5 531.6 L278.4 533 L283.1 533.4 L283.6 537.2 L279.4 538.1 L278.4 544 L271.4 544 L272.8 539 L276.6 536.25 L278.4 534.4Z" fill="#fff"/></g>
</g>
<path d="M408 383.4 L411.25 386.6 L420.6 389.7 L431.6 391.25 L442.5 396 L448.75 399 L453.4 400.6 L459.9 402.5 L461.25 403.75 L466.4 408.5 L468.6 411.25" fill="none" stroke="#000" stroke-width="3" stroke-linejoin="round"/>
<path d="M408 383.4 L411.25 386.6 L420.6 389.7 L431.6 391.25 L442.5 396 L448.75 399 L453.4 400.6 L459.9 402.5 L461.25 403.75 L466.4 408.5 L468.6 411.25" fill="none" stroke="#fff" stroke-width="1.2" stroke-linejoin="round"/>
<path d="M404 379 L407 376 L413 374.5 L419 375.5 L421.5 378.5 L420 381.5 L415 382.5 L411 381.5 L408 380.5 L406.5 383.5 L404.5 384Z" fill="#dcdcdc" stroke="#000" stroke-width="1"/>
<path d="M452 399.5 L456.5 398.5 L460 401.5 L461.5 404.5 L457 403 Z" fill="#fff" stroke="#000" stroke-width="0.8"/>
<path d="M509 353.5 l4 -4 l4 4 l-4 4Z" fill="#0070ff"/>
<path fill="#000" shape-rendering="crispEdges" d="M385 247h1v1h-1zM384 248h1v1h-1zM386 248h1v1h-1zM383 249h1v1h-1zM387 249h1v1h-1zM382 250h1v1h-1zM388 250h1v1h-1zM381 251h1v1h-1zM389 251h1v1h-1zM377 252h1v1h-1zM382 252h1v1h-1zM388 252h1v1h-1zM376 253h1v1h-1zM378 253h1v1h-1zM383 253h1v1h-1zM387 253h1v1h-1zM375 254h1v1h-1zM379 254h1v1h-1zM384 254h1v1h-1zM386 254h1v1h-1zM374 255h1v1h-1zM380 255h1v1h-1zM385 255h1v1h-1zM373 256h1v1h-1zM381 256h1v1h-1zM374 257h1v1h-1zM380 257h1v1h-1zM375 258h1v1h-1zM379 258h1v1h-1zM376 259h1v1h-1zM378 259h1v1h-1zM377 260h1v1h-1zM363 261h1v1h-1zM362 262h1v1h-1zM364 262h1v1h-1zM361 263h1v1h-1zM365 263h1v1h-1zM360 264h1v1h-1zM366 264h1v1h-1zM359 265h1v1h-1zM367 265h1v1h-1zM360 266h1v1h-1zM366 266h1v1h-1zM361 267h1v1h-1zM365 267h1v1h-1zM362 268h1v1h-1zM364 268h1v1h-1zM363 269h1v1h-1zM324 288h1v1h-1zM323 289h1v1h-1zM325 289h1v1h-1zM322 290h1v1h-1zM326 290h1v1h-1zM321 291h1v1h-1zM327 291h1v1h-1zM320 292h1v1h-1zM328 292h1v1h-1zM321 293h1v1h-1zM327 293h1v1h-1zM322 294h1v1h-1zM326 294h1v1h-1zM323 295h1v1h-1zM325 295h1v1h-1zM324 296h1v1h-1zM448 302h1v1h-1zM447 303h1v1h-1zM449 303h1v1h-1zM446 304h1v1h-1zM450 304h1v1h-1zM414 305h1v1h-1zM445 305h1v1h-1zM451 305h1v1h-1zM413 306h1v1h-1zM415 306h1v1h-1zM444 306h1v1h-1zM452 306h1v1h-1zM412 307h1v1h-1zM416 307h1v1h-1zM445 307h1v1h-1zM451 307h1v1h-1zM411 308h1v1h-1zM417 308h1v1h-1zM446 308h1v1h-1zM450 308h1v1h-1zM410 309h1v1h-1zM418 309h1v1h-1zM447 309h1v1h-1zM449 309h1v1h-1zM411 310h1v1h-1zM417 310h1v1h-1zM448 310h1v1h-1zM412 311h1v1h-1zM416 311h1v1h-1zM413 312h1v1h-1zM415 312h1v1h-1zM414 313h1v1h-1zM518 342h1v1h-1zM517 343h1v1h-1zM519 343h1v1h-1zM516 344h1v1h-1zM520 344h1v1h-1zM515 345h1v1h-1zM521 345h1v1h-1zM514 346h1v1h-1zM520 346h1v1h-1zM522 346h1v1h-1zM515 347h1v1h-1zM519 347h1v1h-1zM521 347h1v1h-1zM523 347h1v1h-1zM516 348h1v1h-1zM518 348h1v1h-1zM520 348h1v1h-1zM524 348h1v1h-1zM513 349h1v1h-1zM517 349h1v1h-1zM519 349h1v1h-1zM525 349h1v1h-1zM311 350h1v1h-1zM512 350h1v1h-1zM514 350h1v1h-1zM518 350h1v1h-1zM524 350h1v1h-1zM310 351h1v1h-1zM312 351h1v1h-1zM511 351h1v1h-1zM515 351h1v1h-1zM519 351h1v1h-1zM523 351h1v1h-1zM309 352h1v1h-1zM313 352h1v1h-1zM510 352h1v1h-1zM516 352h1v1h-1zM520 352h1v1h-1zM522 352h1v1h-1zM308 353h1v1h-1zM314 353h1v1h-1zM475 353h1v1h-1zM509 353h1v1h-1zM517 353h1v1h-1zM521 353h1v1h-1zM307 354h1v1h-1zM315 354h1v1h-1zM474 354h1v1h-1zM476 354h1v1h-1zM510 354h1v1h-1zM516 354h1v1h-1zM308 355h1v1h-1zM314 355h1v1h-1zM473 355h1v1h-1zM477 355h1v1h-1zM511 355h1v1h-1zM515 355h1v1h-1zM309 356h1v1h-1zM313 356h1v1h-1zM472 356h1v1h-1zM478 356h1v1h-1zM512 356h1v1h-1zM514 356h1v1h-1zM310 357h1v1h-1zM312 357h1v1h-1zM471 357h1v1h-1zM479 357h1v1h-1zM513 357h1v1h-1zM311 358h1v1h-1zM472 358h1v1h-1zM478 358h1v1h-1zM473 359h1v1h-1zM477 359h1v1h-1zM474 360h1v1h-1zM476 360h1v1h-1zM475 361h1v1h-1zM525 363h1v1h-1zM524 364h1v1h-1zM526 364h1v1h-1zM523 365h1v1h-1zM527 365h1v1h-1zM522 366h1v1h-1zM528 366h1v1h-1zM521 367h1v1h-1zM529 367h1v1h-1zM522 368h2v1h-2zM528 368h1v1h-1zM532 368h1v1h-1zM522 369h3v1h-3zM527 369h1v1h-1zM531 369h1v1h-1zM533 369h1v1h-1zM521 370h1v1h-1zM524 370h3v1h-3zM530 370h1v1h-1zM534 370h1v1h-1zM520 371h1v1h-1zM525 371h2v1h-2zM529 371h1v1h-1zM535 371h1v1h-1zM428 372h1v1h-1zM444 372h1v1h-1zM519 372h1v1h-1zM527 372h2v1h-2zM536 372h2v1h-2zM427 373h1v1h-1zM429 373h1v1h-1zM443 373h1v1h-1zM445 373h1v1h-1zM465 373h3v1h-3zM520 373h1v1h-1zM526 373h1v1h-1zM529 373h1v1h-1zM535 373h2v1h-2zM538 373h1v1h-1zM426 374h1v1h-1zM430 374h1v1h-1zM442 374h1v1h-1zM446 374h1v1h-1zM464 374h1v1h-1zM521 374h1v1h-1zM525 374h1v1h-1zM530 374h1v1h-1zM534 374h2v1h-2zM539 374h1v1h-1zM425 375h1v1h-1zM431 375h1v1h-1zM441 375h1v1h-1zM447 375h1v1h-1zM465 375h1v1h-1zM468 374h1v2h-1zM522 375h1v1h-1zM524 375h1v1h-1zM531 375h1v1h-1zM533 375h2v1h-2zM540 375h1v1h-1zM424 376h1v1h-1zM432 376h1v1h-1zM440 376h1v1h-1zM448 376h1v1h-1zM466 376h3v1h-3zM523 376h1v1h-1zM532 376h2v1h-2zM541 376h1v1h-1zM425 377h1v1h-1zM431 377h1v1h-1zM441 377h1v1h-1zM447 377h1v1h-1zM534 377h1v1h-1zM540 377h1v1h-1zM426 378h1v1h-1zM430 378h1v1h-1zM442 378h1v1h-1zM446 378h1v1h-1zM535 378h1v1h-1zM539 378h1v1h-1zM427 379h1v1h-1zM429 379h1v1h-1zM443 379h1v1h-1zM445 379h1v1h-1zM536 379h1v1h-1zM538 379h1v1h-1zM428 380h1v1h-1zM444 380h1v1h-1zM537 380h1v1h-1zM351 381h1v1h-1zM350 382h1v1h-1zM352 382h1v1h-1zM349 383h1v1h-1zM353 383h1v1h-1zM348 384h1v1h-1zM354 384h1v1h-1zM347 385h1v1h-1zM355 385h1v1h-1zM341 386h1v1h-1zM348 386h1v1h-1zM354 386h1v1h-1zM340 387h1v1h-1zM342 387h1v1h-1zM349 387h1v1h-1zM353 387h1v1h-1zM339 388h1v1h-1zM343 388h1v1h-1zM350 388h1v1h-1zM352 388h1v1h-1zM338 389h1v1h-1zM344 389h1v1h-1zM351 389h1v1h-1zM337 390h1v1h-1zM345 390h1v1h-1zM515 390h1v1h-1zM338 391h1v1h-1zM344 391h1v1h-1zM514 391h1v1h-1zM516 391h1v1h-1zM339 392h1v1h-1zM343 392h1v1h-1zM513 392h1v1h-1zM517 392h1v1h-1zM340 393h1v1h-1zM342 393h1v1h-1zM512 393h1v1h-1zM518 393h1v1h-1zM341 394h1v1h-1zM511 394h1v1h-1zM519 394h1v1h-1zM459 395h1v1h-1zM503 395h1v1h-1zM512 395h1v1h-1zM518 395h1v1h-1zM458 396h1v1h-1zM460 396h1v1h-1zM502 396h1v1h-1zM504 396h1v1h-1zM513 396h1v1h-1zM517 396h1v1h-1zM457 397h1v1h-1zM461 397h1v1h-1zM501 397h1v1h-1zM505 397h1v1h-1zM514 397h1v1h-1zM516 397h1v1h-1zM456 398h1v1h-1zM462 398h1v1h-1zM500 398h1v1h-1zM506 398h1v1h-1zM515 398h1v1h-1zM455 399h1v1h-1zM463 399h1v1h-1zM499 399h1v1h-1zM507 399h1v1h-1zM341 400h1v1h-1zM366 400h1v1h-1zM456 400h1v1h-1zM462 400h1v1h-1zM500 400h1v1h-1zM506 400h1v1h-1zM340 401h1v1h-1zM342 401h1v1h-1zM365 401h1v1h-1zM367 401h1v1h-1zM457 401h1v1h-1zM461 401h1v1h-1zM501 401h1v1h-1zM505 401h1v1h-1zM339 402h1v1h-1zM343 402h1v1h-1zM364 402h1v1h-1zM368 402h1v1h-1zM458 402h1v1h-1zM460 402h1v1h-1zM502 402h1v1h-1zM504 402h1v1h-1zM338 403h1v1h-1zM344 403h1v1h-1zM363 403h1v1h-1zM369 403h1v1h-1zM459 403h1v1h-1zM503 403h1v1h-1zM337 404h1v1h-1zM345 404h1v1h-1zM362 404h1v1h-1zM370 404h1v1h-1zM338 405h1v1h-1zM344 405h1v1h-1zM363 405h1v1h-1zM369 405h1v1h-1zM339 406h1v1h-1zM343 406h1v1h-1zM364 406h1v1h-1zM368 406h1v1h-1zM340 407h1v1h-1zM342 407h1v1h-1zM365 407h1v1h-1zM367 407h1v1h-1zM341 408h1v1h-1zM366 408h1v1h-1zM293 409h1v1h-1zM292 410h1v1h-1zM294 410h1v1h-1zM291 411h1v1h-1zM295 411h1v1h-1zM290 412h1v1h-1zM296 412h1v1h-1zM289 413h1v1h-1zM297 413h1v1h-1zM290 414h1v1h-1zM296 414h1v1h-1zM291 415h1v1h-1zM295 415h1v1h-1zM292 416h1v1h-1zM294 416h1v1h-1zM331 416h1v1h-1zM293 417h1v1h-1zM330 417h1v1h-1zM332 417h1v1h-1zM329 418h1v1h-1zM333 418h1v1h-1zM328 419h1v1h-1zM334 419h1v1h-1zM327 420h1v1h-1zM335 420h1v1h-1zM531 420h1v1h-1zM328 421h1v1h-1zM334 421h1v1h-1zM530 421h1v1h-1zM532 421h1v1h-1zM329 422h1v1h-1zM333 422h1v1h-1zM529 422h1v1h-1zM533 422h1v1h-1zM330 423h1v1h-1zM332 423h1v1h-1zM493 423h1v1h-1zM528 423h1v1h-1zM534 423h1v1h-1zM331 424h1v1h-1zM492 424h1v1h-1zM494 424h1v1h-1zM527 424h1v1h-1zM535 424h1v1h-1zM491 425h1v1h-1zM495 425h1v1h-1zM528 425h1v1h-1zM534 425h1v1h-1zM490 426h1v1h-1zM496 426h1v1h-1zM529 426h1v1h-1zM533 426h1v1h-1zM489 427h1v1h-1zM497 427h1v1h-1zM530 427h1v1h-1zM532 427h1v1h-1zM490 428h1v1h-1zM496 428h1v1h-1zM531 428h1v1h-1zM491 429h1v1h-1zM495 429h1v1h-1zM492 430h1v1h-1zM494 430h1v1h-1zM493 431h1v1h-1z"/>
<path fill="#000" shape-rendering="crispEdges" d="M121 93h1v1h-1zM158 93h1v1h-1zM319 93h1v1h-1zM433 93h1v1h-1zM479 93h1v1h-1zM121 94h2v1h-2zM158 94h2v1h-2zM176 94h1v1h-1zM182 94h1v1h-1zM309 94h1v1h-1zM315 94h1v1h-1zM319 94h2v1h-2zM361 94h8v1h-8zM411 94h6v1h-6zM433 94h2v1h-2zM457 94h7v1h-7zM479 94h2v1h-2zM501 94h7v1h-7zM512 94h6v1h-6zM522 94h8v1h-8zM117 94h1v2h-1zM171 94h1v2h-1zM304 94h1v2h-1zM417 95h1v1h-1zM464 95h1v1h-1zM508 95h1v1h-1zM518 95h1v1h-1zM109 94h1v3h-1zM116 96h1v2h-1zM135 94h1v4h-1zM176 95h2v3h-2zM206 94h1v4h-1zM309 95h2v3h-2zM333 94h1v4h-1zM383 94h1v4h-1zM418 96h1v2h-1zM465 96h1v2h-1zM519 96h1v2h-1zM126 98h5v1h-5zM133 98h5v1h-5zM142 98h5v1h-5zM151 98h1v1h-1zM153 98h3v1h-3zM163 98h6v1h-6zM177 98h1v1h-1zM181 95h1v4h-1zM187 98h5v1h-5zM196 98h6v1h-6zM204 98h5v1h-5zM212 94h1v5h-1zM214 98h4v1h-4zM223 98h5v1h-5zM231 98h1v1h-1zM233 98h3v1h-3zM244 98h5v1h-5zM254 98h6v1h-6zM310 98h1v1h-1zM314 95h1v4h-1zM323 98h1v1h-1zM325 98h4v1h-4zM331 98h5v1h-5zM339 98h5v1h-5zM348 98h1v1h-1zM350 98h3v1h-3zM372 98h5v1h-5zM381 98h5v1h-5zM390 98h6v1h-6zM418 98h2v1h-2zM424 98h6v1h-6zM457 95h1v4h-1zM464 98h1v1h-1zM470 98h6v1h-6zM483 98h1v1h-1zM485 98h4v1h-4zM509 96h1v3h-1zM519 98h2v1h-2zM522 95h1v4h-1zM110 97h1v3h-1zM131 99h1v1h-1zM151 99h2v1h-2zM191 99h1v1h-1zM212 99h2v1h-2zM227 99h1v1h-1zM231 99h2v1h-2zM249 99h1v1h-1zM323 99h2v1h-2zM343 99h1v1h-1zM348 99h2v1h-2zM440 98h1v2h-1zM457 99h7v1h-7zM483 99h2v1h-2zM501 95h1v5h-1zM507 99h2v1h-2zM522 99h5v1h-5zM115 98h1v3h-1zM172 96h1v5h-1zM186 99h1v2h-1zM192 100h1v1h-1zM222 99h1v2h-1zM228 100h1v1h-1zM269 100h11v1h-11zM283 100h11v1h-11zM305 96h1v5h-1zM338 99h1v2h-1zM344 100h1v1h-1zM446 98h1v3h-1zM461 100h1v1h-1zM501 100h6v1h-6zM111 100h1v2h-1zM173 101h1v1h-1zM175 98h1v4h-1zM186 101h7v1h-7zM222 101h7v1h-7zM306 101h1v1h-1zM308 98h1v4h-1zM338 101h7v1h-7zM419 99h1v3h-1zM441 100h1v2h-1zM462 101h1v1h-1zM520 99h1v3h-1zM178 99h1v4h-1zM180 99h1v4h-1zM311 99h1v4h-1zM313 99h1v4h-1zM418 102h1v1h-1zM445 101h1v2h-1zM519 102h1v1h-1zM112 102h1v2h-1zM114 101h1v3h-1zM125 99h1v5h-1zM131 103h1v1h-1zM141 99h1v5h-1zM147 99h1v5h-1zM162 99h1v5h-1zM168 99h1v5h-1zM179 103h2v1h-2zM186 102h1v2h-1zM192 103h1v1h-1zM195 99h1v5h-1zM201 99h1v5h-1zM222 102h1v2h-1zM228 103h1v1h-1zM243 99h1v5h-1zM249 103h1v1h-1zM253 99h1v5h-1zM259 99h1v5h-1zM312 103h2v1h-2zM338 102h1v2h-1zM344 103h1v1h-1zM371 99h1v5h-1zM377 99h1v5h-1zM389 99h1v5h-1zM395 99h1v5h-1zM417 103h2v1h-2zM423 99h1v5h-1zM429 99h1v5h-1zM442 102h1v2h-1zM444 103h1v1h-1zM463 102h1v2h-1zM469 99h1v5h-1zM475 99h1v5h-1zM518 103h2v1h-2zM112 104h2v1h-2zM126 104h1v1h-1zM130 104h1v1h-1zM135 99h1v6h-1zM142 104h1v1h-1zM146 104h1v1h-1zM163 104h1v1h-1zM167 104h2v1h-2zM173 102h2v3h-2zM187 104h1v1h-1zM191 104h1v1h-1zM196 104h1v1h-1zM200 104h2v1h-2zM206 99h1v6h-1zM223 104h1v1h-1zM227 104h1v1h-1zM238 104h2v1h-2zM244 104h1v1h-1zM248 104h1v1h-1zM254 104h1v1h-1zM258 104h2v1h-2zM306 102h2v3h-2zM333 99h1v6h-1zM339 104h1v1h-1zM343 104h1v1h-1zM372 104h1v1h-1zM376 104h1v1h-1zM383 99h1v6h-1zM390 104h1v1h-1zM394 104h2v1h-2zM411 95h1v10h-1zM416 104h1v1h-1zM424 104h1v1h-1zM428 104h2v1h-2zM443 104h2v1h-2zM464 104h1v1h-1zM470 104h1v1h-1zM474 104h2v1h-2zM512 95h1v10h-1zM517 104h1v1h-1zM113 105h1v1h-1zM121 98h1v8h-1zM127 105h4v1h-4zM136 105h2v1h-2zM143 105h4v1h-4zM151 100h1v6h-1zM158 98h1v8h-1zM164 105h5v1h-5zM174 105h1v1h-1zM179 104h1v2h-1zM188 105h4v1h-4zM197 105h5v1h-5zM207 105h2v1h-2zM212 100h1v6h-1zM218 99h1v7h-1zM224 105h4v1h-4zM231 100h1v6h-1zM239 105h1v1h-1zM245 105h4v1h-4zM255 105h5v1h-5zM307 105h1v1h-1zM312 104h1v2h-1zM319 98h1v8h-1zM323 100h1v6h-1zM329 99h1v7h-1zM334 105h2v1h-2zM340 105h4v1h-4zM348 100h1v6h-1zM364 95h1v11h-1zM373 105h4v1h-4zM384 105h2v1h-2zM391 105h5v1h-5zM399 94h1v12h-1zM411 105h6v1h-6zM425 105h5v1h-5zM433 98h1v8h-1zM436 94h1v12h-1zM457 100h1v6h-1zM465 105h1v1h-1zM471 105h5v1h-5zM479 98h1v8h-1zM483 100h1v6h-1zM489 99h1v7h-1zM501 101h1v5h-1zM512 105h6v1h-6zM522 100h1v6h-1zM443 105h1v2h-1zM442 107h1v1h-1zM441 108h1v1h-1zM440 109h1v1h-1zM54 600h4v1h-4zM62 600h4v1h-4zM71 600h4v1h-4zM100 600h5v1h-5zM108 600h4v1h-4zM117 600h4v1h-4zM146 600h5v1h-5zM154 600h4v1h-4zM163 600h4v1h-4zM193 600h5v1h-5zM201 600h4v1h-4zM210 600h4v1h-4zM242 600h1v1h-1zM249 600h1v1h-1zM256 600h4v1h-4zM288 600h1v1h-1zM296 600h1v1h-1zM302 600h4v1h-4zM334 600h1v1h-1zM338 600h6v1h-6zM348 600h4v1h-4zM378 600h4v1h-4zM386 600h4v1h-4zM395 600h4v1h-4zM424 600h4v1h-4zM432 600h5v1h-5zM441 600h4v1h-4zM470 600h4v1h-4zM478 600h4v1h-4zM487 600h4v1h-4zM53 601h1v1h-1zM58 601h1v1h-1zM65 601h1v1h-1zM103 601h1v1h-1zM107 601h1v1h-1zM112 601h1v1h-1zM149 601h1v1h-1zM154 601h1v1h-1zM196 601h1v1h-1zM200 601h1v1h-1zM205 601h1v1h-1zM241 601h2v1h-2zM247 601h3v1h-3zM287 601h2v1h-2zM295 601h2v1h-2zM333 601h2v1h-2zM378 601h1v1h-1zM424 601h1v1h-1zM435 601h1v1h-1zM470 601h1v1h-1zM478 601h1v1h-1zM482 601h1v1h-1zM57 602h2v1h-2zM66 602h1v1h-1zM102 602h2v1h-2zM111 602h2v1h-2zM148 602h2v1h-2zM154 602h4v1h-4zM195 602h2v1h-2zM201 602h1v1h-1zM204 602h1v1h-1zM240 602h1v1h-1zM286 602h1v1h-1zM294 602h1v1h-1zM332 602h1v1h-1zM378 602h4v1h-4zM424 602h4v1h-4zM434 602h2v1h-2zM470 602h4v1h-4zM478 602h3v1h-3zM57 603h1v1h-1zM61 601h1v3h-1zM65 603h2v1h-2zM103 603h2v1h-2zM111 603h1v1h-1zM149 603h2v1h-2zM153 603h1v1h-1zM196 603h2v1h-2zM201 603h4v1h-4zM342 601h1v3h-1zM377 603h1v1h-1zM423 603h1v1h-1zM435 603h2v1h-2zM469 603h1v1h-1zM477 603h2v1h-2zM481 603h2v1h-2zM56 604h1v1h-1zM62 604h5v1h-5zM110 604h1v1h-1zM239 603h1v2h-1zM242 602h1v3h-1zM285 603h1v2h-1zM288 602h1v3h-1zM293 603h1v2h-1zM296 602h1v3h-1zM331 603h1v2h-1zM334 602h1v3h-1zM55 605h1v1h-1zM109 605h1v1h-1zM238 605h6v1h-6zM284 605h6v1h-6zM292 605h6v1h-6zM330 605h6v1h-6zM341 604h1v2h-1zM477 604h1v2h-1zM54 606h1v1h-1zM61 606h1v1h-1zM65 605h1v2h-1zM68 606h1v1h-1zM70 601h1v6h-1zM75 601h1v6h-1zM99 606h1v1h-1zM104 604h1v3h-1zM108 606h1v1h-1zM114 606h1v1h-1zM116 601h1v6h-1zM121 601h1v6h-1zM145 606h1v1h-1zM150 604h1v3h-1zM153 606h1v1h-1zM158 603h1v4h-1zM160 606h1v1h-1zM162 601h1v6h-1zM167 601h1v6h-1zM192 606h1v1h-1zM197 604h1v3h-1zM200 604h1v3h-1zM205 604h1v3h-1zM207 606h1v1h-1zM209 601h1v6h-1zM214 601h1v6h-1zM253 606h1v1h-1zM255 601h1v6h-1zM260 601h1v6h-1zM299 606h1v1h-1zM301 601h1v6h-1zM306 601h1v6h-1zM340 606h1v1h-1zM345 606h1v1h-1zM347 601h1v6h-1zM352 601h1v6h-1zM377 606h1v1h-1zM382 603h1v4h-1zM385 601h1v6h-1zM390 601h1v6h-1zM392 606h1v1h-1zM394 601h1v6h-1zM399 601h1v6h-1zM423 606h1v1h-1zM428 603h1v4h-1zM431 606h1v1h-1zM436 604h1v3h-1zM438 606h1v1h-1zM440 601h1v6h-1zM445 601h1v6h-1zM469 606h1v1h-1zM474 603h1v4h-1zM478 606h1v1h-1zM482 604h1v3h-1zM484 606h1v1h-1zM486 601h1v6h-1zM491 601h1v6h-1zM53 607h6v1h-6zM62 607h4v1h-4zM67 607h2v1h-2zM71 607h4v1h-4zM100 607h4v1h-4zM107 607h8v1h-8zM117 607h4v1h-4zM146 607h4v1h-4zM154 607h4v1h-4zM159 607h2v1h-2zM163 607h4v1h-4zM193 607h4v1h-4zM201 607h4v1h-4zM206 607h2v1h-2zM210 607h4v1h-4zM242 606h1v2h-1zM249 602h1v6h-1zM252 607h2v1h-2zM256 607h4v1h-4zM288 606h1v2h-1zM296 606h1v2h-1zM298 607h2v1h-2zM302 607h4v1h-4zM334 606h1v2h-1zM339 607h2v1h-2zM344 607h2v1h-2zM348 607h4v1h-4zM378 607h4v1h-4zM386 607h4v1h-4zM391 607h2v1h-2zM395 607h4v1h-4zM424 607h4v1h-4zM432 607h4v1h-4zM437 607h2v1h-2zM441 607h4v1h-4zM470 607h4v1h-4zM478 607h4v1h-4zM483 607h2v1h-2zM487 607h4v1h-4zM134 608h1v2h-1zM136 608h1v2h-1zM133 610h6v1h-6zM274 610h2v1h-2zM304 610h1v1h-1zM323 610h2v1h-2zM121 611h4v1h-4zM127 611h4v1h-4zM186 611h2v1h-2zM210 611h2v1h-2zM231 611h2v1h-2zM258 611h2v1h-2zM324 611h1v1h-1zM352 611h4v1h-4zM360 611h4v1h-4zM367 611h4v1h-4zM373 611h4v1h-4zM416 611h1v1h-1zM421 611h3v1h-3zM124 612h1v1h-1zM126 612h1v1h-1zM130 612h1v1h-1zM134 611h1v2h-1zM136 611h1v2h-1zM183 611h1v2h-1zM210 612h1v1h-1zM221 611h1v2h-1zM303 611h1v2h-1zM309 611h1v2h-1zM351 612h2v1h-2zM363 612h1v1h-1zM366 612h2v1h-2zM373 612h1v1h-1zM376 612h1v1h-1zM389 611h1v2h-1zM414 612h3v1h-3zM125 613h2v1h-2zM131 613h1v1h-1zM134 613h3v1h-3zM139 611h1v3h-1zM146 613h1v1h-1zM148 613h2v1h-2zM155 613h2v1h-2zM160 613h1v1h-1zM162 613h2v1h-2zM166 613h2v1h-2zM172 613h2v1h-2zM175 613h1v1h-1zM177 613h2v1h-2zM182 613h3v1h-3zM193 613h2v1h-2zM204 613h2v1h-2zM209 613h3v1h-3zM219 613h3v1h-3zM226 613h3v1h-3zM240 613h1v1h-1zM247 613h1v1h-1zM249 613h2v1h-2zM254 613h3v1h-3zM261 613h1v1h-1zM263 613h2v1h-2zM273 611h1v3h-1zM278 613h1v1h-1zM280 613h2v1h-2zM284 613h2v1h-2zM288 613h1v1h-1zM290 613h2v1h-2zM294 613h2v1h-2zM307 613h3v1h-3zM313 613h3v1h-3zM322 613h1v1h-1zM334 613h2v1h-2zM340 613h1v1h-1zM342 613h2v1h-2zM351 613h1v1h-1zM366 613h1v1h-1zM372 613h1v1h-1zM393 613h1v1h-1zM395 613h2v1h-2zM400 613h1v1h-1zM402 613h2v1h-2zM120 612h1v3h-1zM124 614h3v1h-3zM130 614h2v1h-2zM146 614h2v1h-2zM149 614h2v1h-2zM153 614h2v1h-2zM156 614h2v1h-2zM160 614h2v1h-2zM164 614h2v1h-2zM167 614h2v1h-2zM170 614h2v1h-2zM173 614h4v1h-4zM191 614h2v1h-2zM194 614h2v1h-2zM202 614h2v1h-2zM205 614h2v1h-2zM217 614h2v1h-2zM220 614h2v1h-2zM224 614h2v1h-2zM227 614h2v1h-2zM236 613h1v2h-1zM247 614h2v1h-2zM252 614h2v1h-2zM255 614h2v1h-2zM261 614h2v1h-2zM278 614h2v1h-2zM282 614h2v1h-2zM285 614h1v1h-1zM288 614h2v1h-2zM292 614h2v1h-2zM295 614h1v1h-1zM302 613h1v2h-1zM305 614h2v1h-2zM308 614h2v1h-2zM311 614h2v1h-2zM314 614h2v1h-2zM318 613h1v2h-1zM332 614h2v1h-2zM335 614h2v1h-2zM340 614h2v1h-2zM355 612h1v3h-1zM370 612h1v3h-1zM372 614h5v1h-5zM390 613h1v2h-1zM393 614h2v1h-2zM396 614h2v1h-2zM400 614h2v1h-2zM420 612h1v3h-1zM424 612h1v3h-1zM121 615h5v1h-5zM127 615h5v1h-5zM153 615h5v1h-5zM170 615h6v1h-6zM191 615h5v1h-5zM237 615h1v1h-1zM239 614h1v2h-1zM301 615h1v1h-1zM319 615h1v1h-1zM321 614h1v2h-1zM354 615h1v1h-1zM369 615h1v1h-1zM372 615h2v1h-2zM376 615h1v1h-1zM379 615h7v1h-7zM388 613h1v3h-1zM391 615h1v1h-1zM404 615h7v1h-7zM421 615h4v1h-4zM175 616h1v1h-1zM272 614h1v3h-1zM353 616h1v1h-1zM364 613h1v4h-1zM368 616h1v1h-1zM372 616h1v1h-1zM377 616h1v1h-1zM387 616h5v1h-5zM120 617h1v1h-1zM124 616h1v2h-1zM126 617h1v1h-1zM130 616h1v2h-1zM146 615h1v3h-1zM150 615h1v3h-1zM153 616h1v2h-1zM157 617h1v1h-1zM164 615h1v3h-1zM168 617h1v1h-1zM170 616h1v2h-1zM174 617h2v1h-2zM183 614h1v4h-1zM191 616h1v2h-1zM195 617h1v1h-1zM202 615h1v3h-1zM206 615h1v3h-1zM217 615h1v3h-1zM221 615h1v3h-1zM224 615h1v3h-1zM228 615h1v3h-1zM237 616h2v2h-2zM252 615h1v3h-1zM256 615h1v3h-1zM300 616h1v2h-1zM305 615h1v3h-1zM309 615h1v3h-1zM311 615h1v3h-1zM315 615h1v3h-1zM319 616h2v2h-2zM332 615h1v3h-1zM336 615h1v3h-1zM352 617h1v1h-1zM359 612h1v6h-1zM363 617h1v1h-1zM367 617h1v1h-1zM373 617h1v1h-1zM376 617h1v1h-1zM387 617h1v1h-1zM391 617h1v1h-1zM393 615h1v3h-1zM397 615h1v3h-1zM420 617h1v1h-1zM424 616h1v2h-1zM121 618h4v1h-4zM127 618h4v1h-4zM146 618h4v1h-4zM154 618h3v1h-3zM160 615h1v4h-1zM165 618h3v1h-3zM171 618h3v1h-3zM175 618h1v1h-1zM179 614h1v5h-1zM183 618h2v1h-2zM186 613h1v6h-1zM189 611h1v8h-1zM192 618h3v1h-3zM203 618h3v1h-3zM210 614h1v5h-1zM218 618h4v1h-4zM225 618h4v1h-4zM231 613h1v6h-1zM234 611h1v8h-1zM238 618h1v1h-1zM247 615h1v4h-1zM253 618h4v1h-4zM258 613h1v6h-1zM261 615h1v4h-1zM265 614h1v5h-1zM278 615h1v4h-1zM282 615h1v4h-1zM286 615h1v4h-1zM288 615h1v4h-1zM292 615h1v4h-1zM296 615h1v4h-1zM306 618h4v1h-4zM312 618h4v1h-4zM320 618h1v1h-1zM325 612h1v7h-1zM333 618h3v1h-3zM340 615h1v4h-1zM344 614h1v5h-1zM351 618h6v1h-6zM360 618h4v1h-4zM366 618h6v1h-6zM373 618h4v1h-4zM386 618h1v1h-1zM392 618h5v1h-5zM400 615h1v4h-1zM416 613h1v6h-1zM421 618h3v1h-3zM237 619h1v1h-1zM273 617h1v3h-1zM299 618h1v2h-1zM319 619h1v1h-1zM324 619h1v1h-1zM146 619h1v2h-1zM235 620h2v1h-2zM274 620h2v1h-2zM298 620h1v1h-1zM317 620h2v1h-2zM323 620h2v1h-2zM393 619h1v2h-1z"/>
<rect x="68" y="594" width="416.5" height="5.5" fill="#d9d9d9"/>
<rect x="480.5" y="574" width="4" height="25.5" fill="#d9d9d9"/>
<rect x="64" y="569" width="46.28" height="25" fill="#100080"/>
<rect x="110.28" y="569" width="46.28" height="25" fill="#0000ff"/>
<rect x="156.56" y="569" width="46.28" height="25" fill="#0070ff"/>
<rect x="202.83" y="569" width="46.28" height="25" fill="#00aa80"/>
<rect x="249.11" y="569" width="46.28" height="25" fill="#00e600"/>
<rect x="295.39" y="569" width="46.28" height="25" fill="#8cff00"/>
<rect x="341.67" y="569" width="46.28" height="25" fill="#ffc800"/>
<rect x="387.94" y="569" width="46.28" height="25" fill="#ff6000"/>
<rect x="434.22" y="569" width="46.28" height="25" fill="#ff0000"/>
<g stroke="#000" stroke-width="1" shape-rendering="crispEdges">
<rect x="64" y="569" width="416.5" height="25" fill="none"/>
<line x1="64.5" y1="569" x2="64.5" y2="599"/>
<line x1="110.5" y1="569" x2="110.5" y2="599"/>
<line x1="157.5" y1="569" x2="157.5" y2="599"/>
<line x1="203.5" y1="569" x2="203.5" y2="599"/>
<line x1="249.5" y1="569" x2="249.5" y2="599"/>
<line x1="295.5" y1="569" x2="295.5" y2="599"/>
<line x1="342.5" y1="569" x2="342.5" y2="599"/>
<line x1="388.5" y1="569" x2="388.5" y2="599"/>
<line x1="434.5" y1="569" x2="434.5" y2="599"/>
<line x1="480.5" y1="569" x2="480.5" y2="599"/>
</g>
</svg></body></html>
